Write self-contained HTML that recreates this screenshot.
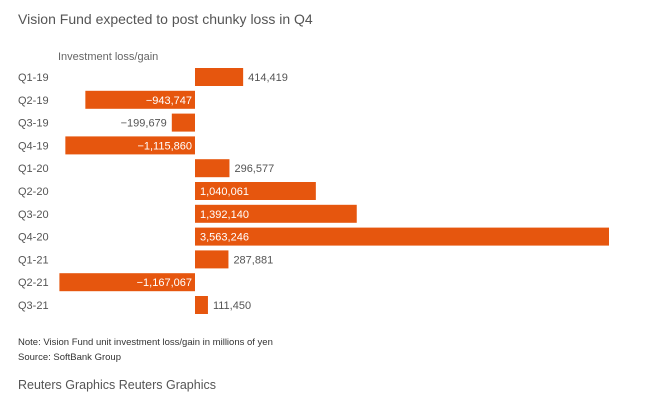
<!DOCTYPE html>
<html><head><meta charset="utf-8"><style>
body{margin:0;background:#fff;font-family:"Liberation Sans",sans-serif;}
svg text{font-family:"Liberation Sans",sans-serif;}
</style></head><body>
<svg width="646" height="402">
<text x="18" y="24" font-size="14" fill="#555">Vision Fund expected to post chunky loss in Q4</text>
<text x="58" y="60" font-size="11" fill="#666">Investment loss/gain</text>
<g id="bars"></g>
<text x="18" y="345" font-size="9.5" fill="#333">Note: Vision Fund unit investment loss/gain in millions of yen</text>
<text x="18" y="360" font-size="9.5" fill="#333">Source: SoftBank Group</text>
<text x="18" y="389" font-size="12.5" fill="#555">Reuters Graphics Reuters Graphics</text>
</svg>
<script>
const categories=["Q1-19","Q2-19","Q3-19","Q4-19","Q1-20","Q2-20","Q3-20","Q4-20","Q1-21","Q2-21","Q3-21"];
const values=[414419,-943747,-199679,-1115860,296577,1040061,1392140,3563246,287881,-1167067,111450];
const labels=["414,419","−943,747","−199,679","−1,115,860","296,577","1,040,061","1,392,140","3,563,246","287,881","−1,167,067","111,450"];
const x0=195,scale=414/3563246,y0=77,step=22.8,bh=18;
const xs=v=>x0+v*scale;
const ys=i=>y0+i*step;
const g=document.getElementById('bars');
const NS='http://www.w3.org/2000/svg';
categories.forEach((c,i)=>{
  const v=values[i],y=ys(i);
  const t=document.createElementNS(NS,'text');
  t.setAttribute('x',18);t.setAttribute('y',y+4);t.setAttribute('font-size','11');t.setAttribute('fill','#555');
  t.textContent=c;
  
  
  g.appendChild(t);
  const r=document.createElementNS(NS,'rect');
  const xa=Math.min(xs(v),x0),w=Math.abs(xs(v)-x0);
  r.setAttribute('x',xa);r.setAttribute('y',y-bh/2);r.setAttribute('width',w);r.setAttribute('height',bh);r.setAttribute('fill','#e6560e');
  
  
  g.appendChild(r);
  const l=document.createElementNS(NS,'text');
  l.setAttribute('y',y+4);l.setAttribute('font-size','11');
  const inside=w>100;
  if(v>=0){
    if(inside){l.setAttribute('x',x0+5);l.setAttribute('fill','#fff');}
    else{l.setAttribute('x',xs(v)+5);l.setAttribute('fill','#555');}
  }else{
    l.setAttribute('text-anchor','end');
    if(inside){l.setAttribute('x',x0-3);l.setAttribute('fill','#fff');}
    else{l.setAttribute('x',xs(v)-5);l.setAttribute('fill','#555');}
  }
  l.textContent=labels[i];
  
  
  g.appendChild(l);
});
</script>
</body></html>
